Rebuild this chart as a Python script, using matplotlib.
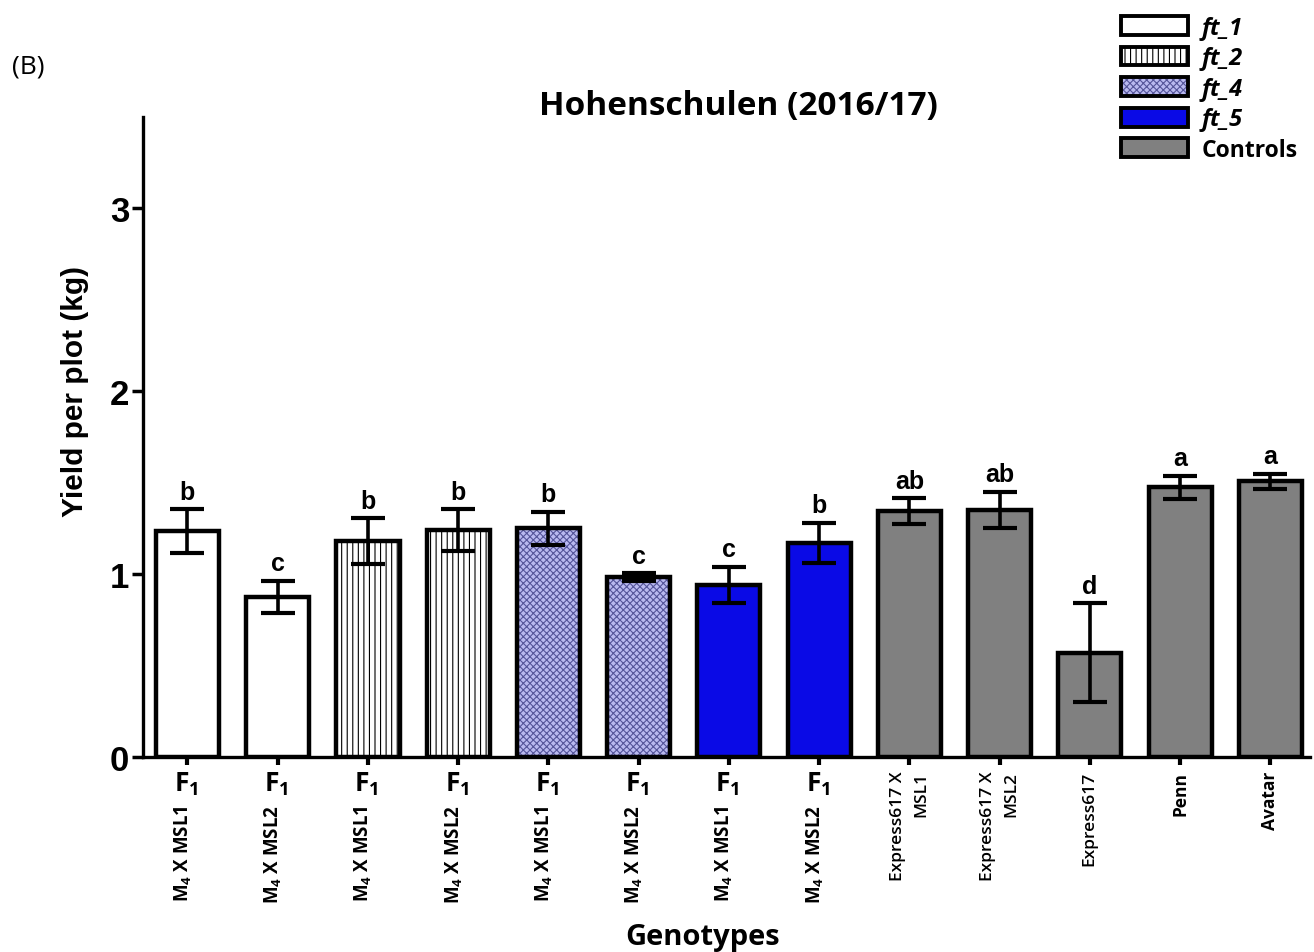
import matplotlib
matplotlib.use("Agg")
import matplotlib.pyplot as plt
from matplotlib.patches import Patch
from matplotlib.legend_handler import HandlerTuple

# Yield per plot (kg), Hohenschulen 2016/17
genotypes = ["M$\\mathregular{_4}$ X MSL1", "M$\\mathregular{_4}$ X MSL2",
             "M$\\mathregular{_4}$ X MSL1", "M$\\mathregular{_4}$ X MSL2",
             "M$\\mathregular{_4}$ X MSL1", "M$\\mathregular{_4}$ X MSL2",
             "M$\\mathregular{_4}$ X MSL1", "M$\\mathregular{_4}$ X MSL2",
             "Express617 X\nMSL1", "Express617 X\nMSL2", "Express617", "Penn", "Avatar"]
groups = ["ft_1", "ft_1", "ft_2", "ft_2", "ft_4", "ft_4", "ft_5", "ft_5",
          "Controls", "Controls", "Controls", "Controls", "Controls"]
yield_mean = [1.235, 0.875, 1.18, 1.24, 1.25, 0.985, 0.94, 1.17, 1.345, 1.35, 0.57, 1.475, 1.508]
yield_err = [0.12, 0.09, 0.125, 0.115, 0.09, 0.02, 0.10, 0.11, 0.07, 0.10, 0.27, 0.063, 0.04]
letters = ["b", "c", "b", "b", "b", "c", "c", "b", "ab", "ab", "d", "a", "a"]

styles = {
    "ft_1": dict(color="white", hatch=None, hcolor="black"),
    "ft_2": dict(color="white", hatch="|||", hcolor="black"),
    "ft_4": dict(color="#b9b9f0", hatch="xxxxx", hcolor="#55559a"),
    "ft_5": dict(color="#0a0ae6", hatch=None, hcolor="black"),
    "Controls": dict(color="#808080", hatch=None, hcolor="black"),
}

plt.rcParams["hatch.linewidth"] = 0.8
fig = plt.figure(figsize=(13.14, 9.53), dpi=100)
ax = fig.add_axes([0.109, 0.2046, 0.888, 0.6716])

x = list(range(len(yield_mean)))
for i, g in enumerate(groups):
    st = styles[g]
    # fill + hatch first, then the black outline on top
    ax.bar(x[i], yield_mean[i], width=0.7, color=st["color"], hatch=st["hatch"],
           edgecolor=st["hcolor"], linewidth=0, zorder=2)
    ax.bar(x[i], yield_mean[i], width=0.7, fill=False, edgecolor="black",
           linewidth=3.2, zorder=3)

ax.errorbar(x, yield_mean, yerr=yield_err, fmt="none", ecolor="black",
            elinewidth=2.6, capsize=12, capthick=3, zorder=4)

for i in x:
    ax.annotate(letters[i], xy=(x[i], yield_mean[i] + yield_err[i]),
                xytext=(0, 4), textcoords="offset points", ha="center", va="bottom",
                fontsize=18, fontweight="bold", family="Liberation Sans")

ax.set_ylim(0, 3.5)
ax.set_xlim(-0.49, 12.44)
ax.set_yticks([0, 1, 2, 3])
ax.set_yticklabels(["0", "1", "2", "3"], fontsize=25, fontweight="bold",
                   family="Liberation Sans")
ax.set_xticks(x)
ax.set_xticklabels([""] * len(x))
ax.tick_params(axis="y", length=8, width=2.5, pad=2)
ax.tick_params(axis="x", length=6, width=3)
for s in ["top", "right"]:
    ax.spines[s].set_visible(False)
for s in ["left", "bottom"]:
    ax.spines[s].set_linewidth(2.4)

# x tick labels
for i, lab in enumerate(genotypes):
    if groups[i] != "Controls":
        ax.annotate("F$\\mathregular{_1}$", xy=(x[i], 0), xycoords=("data", "axes fraction"),
                    xytext=(-1, -19), textcoords="offset points", ha="center", va="center",
                    fontsize=19, fontweight="bold", family="Open Sans")
        ax.annotate(lab, xy=(x[i], 0), xycoords=("data", "axes fraction"),
                    xytext=(-3, -34), textcoords="offset points", ha="center", va="top",
                    rotation=90, fontsize=13.5, fontweight="bold", family="Open Sans")
    else:
        bold = lab in ("Penn", "Avatar")
        ax.annotate(lab, xy=(x[i], 0), xycoords=("data", "axes fraction"),
                    xytext=(0, -10), textcoords="offset points", ha="center", va="top",
                    rotation=90, multialignment="right", fontsize=12.5,
                    fontweight="bold" if bold else "semibold", family="Open Sans",
                    linespacing=1.6)

fig.text(0.5617, 0.888, "Hohenschulen (2016/17)", ha="center", va="center",
         fontsize=24, fontweight="bold", family="Open Sans")
fig.text(0.057, 0.589, "Yield per plot (kg)", ha="center", va="center", rotation=90,
         fontsize=21.5, fontweight="bold", family="Liberation Sans")
fig.text(0.535, 0.016, "Genotypes", ha="center", va="center",
         fontsize=21, fontweight="bold", family="Open Sans")
fig.text(0.009, 0.93, "(B)", ha="left", va="center", fontsize=19, family="Open Sans")

# legend
handles = []
labels = ["ft_1", "ft_2", "ft_4", "ft_5", "Controls"]
for g in labels:
    st = styles[g]
    p1 = Patch(facecolor=st["color"], hatch=st["hatch"], edgecolor=st["hcolor"], linewidth=0)
    p2 = Patch(fill=False, edgecolor="black", linewidth=2.8)
    handles.append((p1, p2))
leg = fig.legend(handles, labels, loc="upper right", bbox_to_anchor=(1.0, 1.0),
                 frameon=False, handler_map={tuple: HandlerTuple(ndivide=1, pad=0)},
                 handlelength=2.85, handleheight=0.85, handletextpad=0.55,
                 labelspacing=0.28, borderpad=0.2,
                 prop={"family": "Open Sans", "weight": "bold", "size": 17})
for t in leg.get_texts():
    if t.get_text() != "Controls":
        t.set_style("italic")
    else:
        t.set_fontsize(16.5)

fig.savefig("out.png", dpi=100)
